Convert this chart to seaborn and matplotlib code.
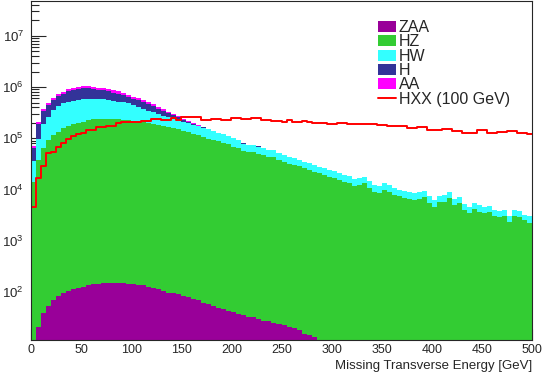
import numpy as np
import pandas as pd
import seaborn as sns
import matplotlib.pyplot as plt
from matplotlib.ticker import FixedLocator, LogLocator, MultipleLocator, FuncFormatter, NullFormatter
from matplotlib.patches import Patch
from matplotlib.lines import Line2D

sns.set_style("ticks")
plt.rcParams['font.family'] = ['Liberation Sans', 'DejaVu Sans']

# 100 bins of 5 GeV in missing transverse energy
met_range = (0, 500)
met_width = 5
met_centers = np.arange(2.5, 500, met_width)

zaa = [0, 21, 39, 53, 70, 84, 94, 106, 113, 118,
       126, 137, 143, 143, 148, 148, 148, 148, 148, 143,
       143, 137, 137, 126, 118, 113, 106, 97, 94, 90,
       84, 79, 72, 68, 62, 58, 53, 48, 46, 43,
       40, 37, 35, 33, 32, 29, 27.5, 26.5, 25, 23.7,
       22.7, 21, 19.6, 17.7, 15.1, 14.5, 13.4] + [0] * 43

hz = [1.4e4, 3.7e4, 6.5e4, 9.3e4, 1.15e5, 1.35e5, 1.57e5, 1.75e5, 1.91e5, 2.03e5,
      2.12e5, 2.29e5, 2.36e5, 2.43e5, 2.43e5, 2.43e5, 2.40e5, 2.36e5, 2.29e5, 2.29e5,
      2.20e5, 2.09e5, 2.05e5, 2.00e5, 1.91e5, 1.83e5, 1.75e5, 1.67e5, 1.56e5, 1.50e5,
      1.39e5, 1.30e5, 1.22e5, 1.14e5, 1.06e5, 9.9e4, 9.3e4, 8.7e4, 8.1e4, 7.6e4,
      6.9e4, 6.5e4, 5.6e4, 5.4e4, 5.3e4, 5.0e4, 4.7e4, 4.4e4, 4.3e4, 3.8e4,
      3.5e4, 3.1e4, 3.05e4, 2.85e4, 2.6e4, 2.43e4, 2.22e4, 2.07e4, 1.94e4, 1.77e4,
      1.67e4, 1.55e4, 1.43e4, 1.35e4, 1.18e4, 1.24e4, 1.35e4, 1.08e4, 9.1e3, 8.6e3,
      9.8e3, 9.0e3, 7.8e3, 7.3e3, 6.9e3, 6.6e3, 6.3e3, 6.6e3, 7.2e3, 5.5e3,
      4.6e3, 5.8e3, 5.8e3, 6.8e3, 5.0e3, 5.5e3, 4.0e3, 3.5e3, 4.2e3, 3.7e3,
      3.5e3, 3.7e3, 3.1e3, 2.9e3, 3.1e3, 2.35e3, 3.1e3, 2.9e3, 2.5e3, 2.2e3]

hw = [2.15e4, 5.8e4, 1.26e5, 1.7e5, 2.45e5, 2.95e5, 3.33e5, 3.45e5, 3.49e5, 3.57e5,
      3.68e5, 3.61e5, 3.54e5, 3.37e5, 3.37e5, 3.17e5, 3.0e5, 2.84e5, 2.71e5, 2.61e5,
      2.2e5, 2.01e5, 1.7e5, 1.45e5, 1.29e5, 1.17e5, 9.9e4, 8.8e4, 8.4e4, 7.0e4,
      7.0e4, 6.5e4, 6.1e4, 5.6e4, 5.4e4, 5.1e4, 4.3e4, 4.0e4, 3.8e4, 3.3e4,
      3.1e4, 2.6e4, 2.3e4, 2.1e4, 2.0e4, 1.9e4, 1.7e4, 1.6e4, 1.5e4, 1.4e4,
      1.3e4, 1.15e4, 1.1e4, 1.0e4, 9.0e3, 8.5e3, 7.8e3, 7.3e3, 6.8e3, 6.2e3,
      5.8e3, 5.4e3, 5.0e3, 4.7e3, 4.4e3, 4.4e3, 4.2e3, 3.9e3, 3.4e3, 3.1e3,
      3.4e3, 3.2e3, 2.8e3, 2.6e3, 2.4e3, 2.3e3, 2.2e3, 2.2e3, 2.3e3, 1.9e3,
      1.6e3, 1.8e3, 1.9e3, 2.0e3, 1.5e3, 1.6e3, 1.2e3, 1.1e3, 1.3e3, 1.2e3,
      1.0e3, 1.1e3, 950, 900, 900, 750, 950, 850, 700, 800]

h = [2.9e4, 9.8e4, 1.5e5, 1.83e5, 2.04e5, 2.43e5, 2.47e5, 3.17e5, 3.34e5, 3.68e5,
     3.76e5, 3.66e5, 3.38e5, 3.03e5, 2.85e5, 2.77e5, 2.43e5, 2.26e5, 2.0e5, 1.6e5,
     1.5e5, 1.45e5, 1.33e5, 1.17e5, 1.07e5, 8.1e4, 7.2e4, 5.5e4, 3.9e4, 3.6e4,
     2.0e4, 1.6e4, 7e3, 4.5e3, 3e3, 2.5e3, 2e3, 1.6e3, 1.3e3, 1e3,
     800, 600, 500, 400, 300, 200, 150, 100, 80, 50] + [0] * 50

aa = [6.4e3, 1.9e4, 3.4e4, 4.4e4, 5.6e4, 6.7e4, 7.3e4, 8.3e4, 8.6e4, 9.2e4,
      9.4e4, 9.4e4, 9.2e4, 8.7e4, 8.5e4, 8.3e4, 7.7e4, 7.4e4, 6.9e4, 6.3e4,
      5.3e4, 4.9e4, 4.2e4, 3.8e4, 3.3e4, 2.9e4, 2.4e4, 2.0e4, 1.6e4, 1.4e4,
      1.1e4, 9e3, 5e3, 3.5e3, 2e3, 1.5e3, 1.2e3, 1e3, 800, 600,
      500, 400, 300, 200, 150, 100, 80, 60, 40, 20] + [0] * 50

hxx = [4.6e3, 1.69e4, 2.9e4, 5.2e4, 5.5e4, 6.8e4, 8.1e4, 9.7e4, 1.11e5, 1.22e5,
       1.29e5, 1.42e5, 1.42e5, 1.63e5, 1.68e5, 1.76e5, 1.76e5, 1.97e5, 2.12e5, 2.12e5,
       2.12e5, 2.12e5, 2.18e5, 2.2e5, 2.4e5, 2.35e5, 2.29e5, 2.29e5, 2.47e5, 2.29e5,
       2.66e5, 2.66e5, 2.6e5, 2.55e5, 2.29e5, 2.29e5, 2.4e5, 2.4e5, 2.29e5, 2.29e5,
       2.47e5, 2.47e5, 2.4e5, 2.4e5, 2.47e5, 2.47e5, 2.29e5, 2.29e5, 2.18e5, 2.18e5,
       2.06e5, 2.29e5, 2.12e5, 2.12e5, 2.2e5, 2.12e5, 2.03e5, 2.0e5, 1.95e5, 1.93e5,
       1.91e5, 1.97e5, 1.97e5, 1.91e5, 1.91e5, 1.91e5, 1.91e5, 1.91e5, 1.91e5, 1.83e5,
       1.83e5, 1.75e5, 1.75e5, 1.75e5, 1.75e5, 1.6e5, 1.58e5, 1.65e5, 1.65e5, 1.46e5,
       1.46e5, 1.46e5, 1.52e5, 1.52e5, 1.36e5, 1.36e5, 1.27e5, 1.27e5, 1.27e5, 1.42e5,
       1.42e5, 1.27e5, 1.27e5, 1.3e5, 1.3e5, 1.36e5, 1.36e5, 1.27e5, 1.27e5, 1.22e5]

processes = ['ZAA', 'HZ', 'HW', 'H', 'AA']
colors = {'ZAA': '#990099', 'HZ': '#33cc33', 'HW': '#33ffff', 'H': '#333399', 'AA': '#ff00ff'}

stack = pd.concat([
    pd.DataFrame({'met': met_centers, 'events': vals, 'process': name})
    for name, vals in zip(processes, [zaa, hz, hw, h, aa])
], ignore_index=True)
signal = pd.DataFrame({'met': met_centers, 'events': hxx})

fig = plt.figure(figsize=(5.42, 3.79), dpi=100)
ax = fig.add_axes([31 / 542, 39 / 379, 501 / 542, 339 / 379])

# seaborn stacks the last hue level at the bottom
sns.histplot(data=stack, x='met', weights='events', hue='process',
             hue_order=processes[::-1], palette=colors,
             binwidth=met_width, binrange=met_range,
             multiple='stack', element='step', alpha=1, linewidth=0,
             legend=False, ax=ax)
sns.histplot(data=signal, x='met', weights='events',
             binwidth=met_width, binrange=met_range, element='step',
             fill=False, color='#ff0000', linewidth=1.4, ax=ax)

ax.set_yscale('log')
ax.set_xlim(0, 500)
ax.set_ylim(11.5, 4.8e7)
ax.set_axisbelow(True)

ax.yaxis.set_major_locator(FixedLocator([1e2, 1e3, 1e4, 1e5, 1e6, 1e7]))
ax.yaxis.set_major_formatter(FuncFormatter(lambda v, p: r'$\mathregular{10^{%d}}$' % round(np.log10(v))))
ax.yaxis.set_minor_locator(LogLocator(base=10, subs=np.arange(2, 10)))
ax.yaxis.set_minor_formatter(NullFormatter())
ax.xaxis.set_major_locator(MultipleLocator(50))
ax.xaxis.set_minor_locator(MultipleLocator(10))
ax.tick_params(axis='y', which='major', direction='in', length=11, width=0.8, pad=5, labelsize=9.5)
ax.tick_params(axis='y', which='minor', direction='in', length=5.5, width=0.8)
ax.tick_params(axis='x', which='major', direction='in', length=8, width=0.8, pad=3, labelsize=9)
ax.tick_params(axis='x', which='minor', direction='in', length=4, width=0.8)
for s in ax.spines.values():
    s.set_linewidth(0.8)

ax.set_ylabel('')
ax.set_xlabel('Missing Transverse Energy [GeV]', loc='right', fontsize=9.5, labelpad=3)

handles = [Patch(facecolor=colors[p], edgecolor='none') for p in processes]
handles.append(Line2D([0], [0], color='#ff0000', linewidth=1.4))
labels = processes + ['HXX (100 GeV)']
ax.legend(handles, labels, loc='upper left', bbox_to_anchor=(378 / 542, 1 - 20 / 379),
          bbox_transform=fig.transFigure, frameon=False, fontsize=11.5,
          handlelength=1.1, handleheight=0.7, handletextpad=0.2,
          labelspacing=-0.04, borderpad=0, borderaxespad=0)

fig.savefig('out.png', dpi=100)
